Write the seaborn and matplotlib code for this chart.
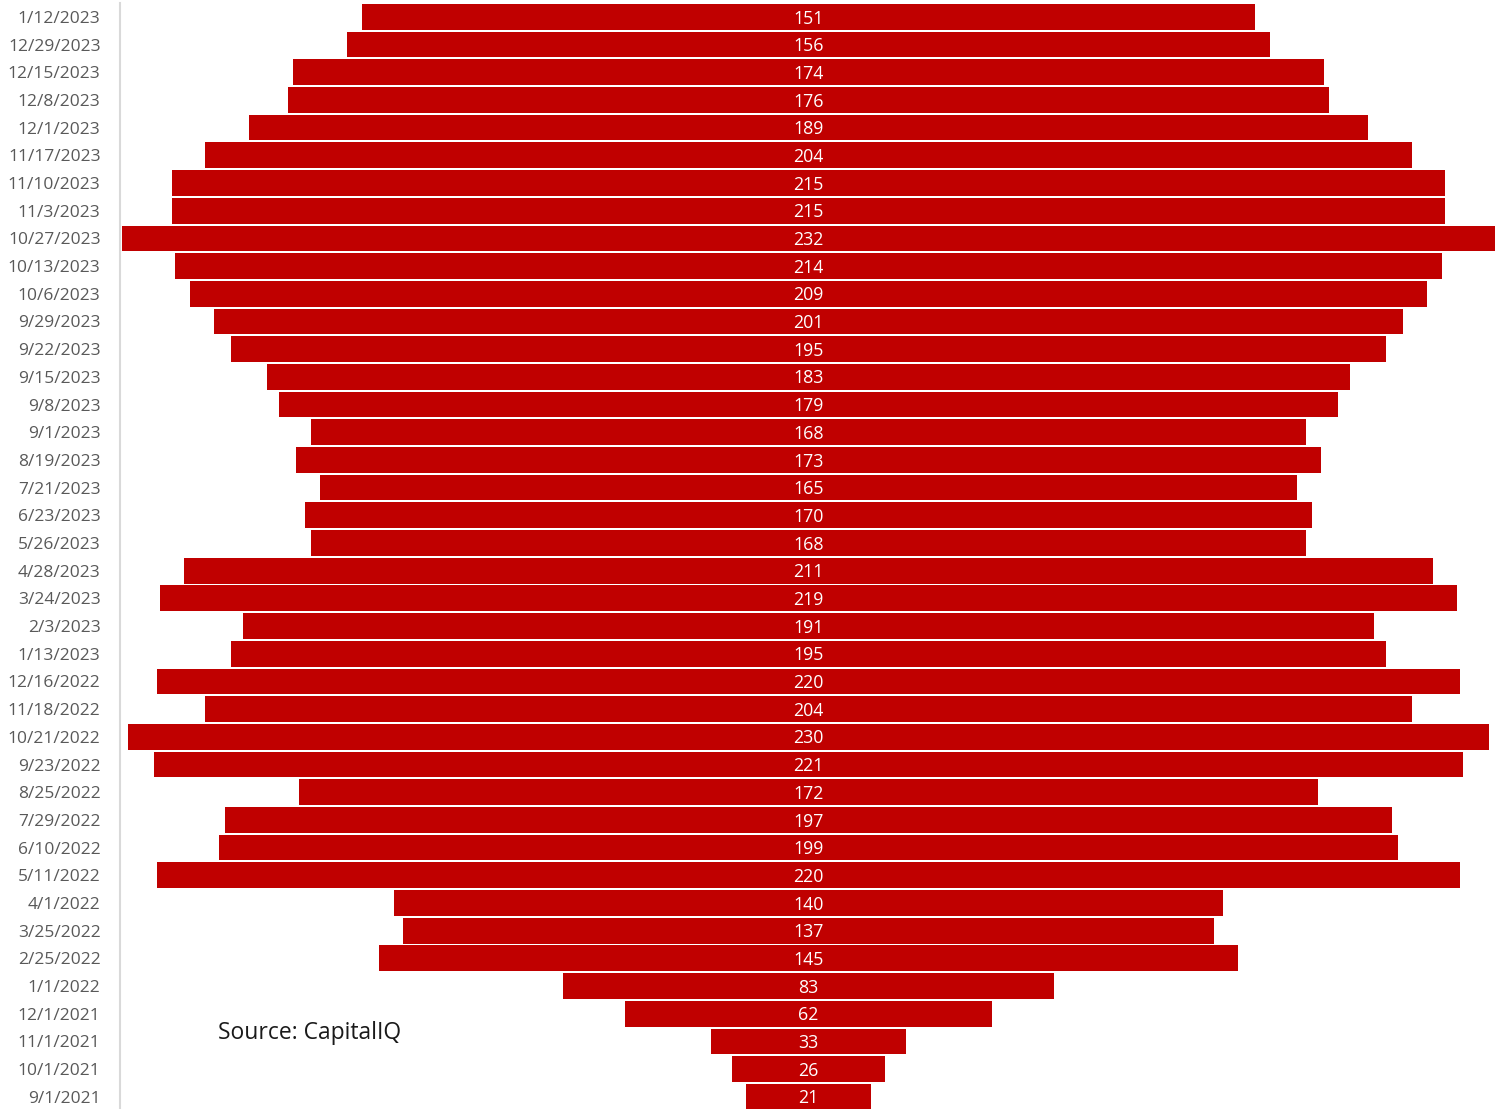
import matplotlib
matplotlib.use("Agg")
import matplotlib.pyplot as plt
import seaborn as sns
import pandas as pd

dates = [
    "1/12/2023", "12/29/2023", "12/15/2023", "12/8/2023", "12/1/2023",
    "11/17/2023", "11/10/2023", "11/3/2023", "10/27/2023", "10/13/2023",
    "10/6/2023", "9/29/2023", "9/22/2023", "9/15/2023", "9/8/2023",
    "9/1/2023", "8/19/2023", "7/21/2023", "6/23/2023", "5/26/2023",
    "4/28/2023", "3/24/2023", "2/3/2023", "1/13/2023", "12/16/2022",
    "11/18/2022", "10/21/2022", "9/23/2022", "8/25/2022", "7/29/2022",
    "6/10/2022", "5/11/2022", "4/1/2022", "3/25/2022", "2/25/2022",
    "1/1/2022", "12/1/2021", "11/1/2021", "10/1/2021", "9/1/2021",
]
counts = [
    151, 156, 174, 176, 189,
    204, 215, 215, 232, 214,
    209, 201, 195, 183, 179,
    168, 173, 165, 170, 168,
    211, 219, 191, 195, 220,
    204, 230, 221, 172, 197,
    199, 220, 140, 137, 145,
    83, 62, 33, 26, 21,
]

BAR = "#C00000"
df = pd.DataFrame({"date": dates, "count": counts})
df["right"] = df["count"] / 2
df["left"] = -df["count"] / 2

sns.set_theme(style="white")
plt.rcParams["font.family"] = ["Open Sans", "DejaVu Sans"]

fig = plt.figure(figsize=(15.04, 11.09), dpi=100)
ax = fig.add_axes([120 / 1504, 0.0, (1497 - 120) / 1504, (1109 - 3) / 1109])

# each bar is drawn as two halves around zero, so bars are centred
for col in ("right", "left"):
    sns.barplot(data=df, x=col, y="date", orient="h", color=BAR,
                saturation=1, width=0.93, linewidth=0, ax=ax, order=dates)

for i, v in enumerate(df["count"]):
    ax.text(0, i + 0.06, str(v), ha="center", va="center", color="white",
            fontsize=12.8)

ax.set_xlim(-116.3, 116.3)
ax.set_ylim(39.44, -0.5)
ax.set_xlabel("")
ax.set_ylabel("")
ax.set_xticks([])
for s in ("top", "right", "bottom"):
    ax.spines[s].set_visible(False)
ax.spines["left"].set_color("#d9d9d9")
ax.spines["left"].set_linewidth(1.5)
ax.tick_params(axis="y", length=0, pad=14, labelsize=12.5, labelcolor="#595959")
for lbl in ax.get_yticklabels():
    lbl.set_y(lbl.get_position()[1])

fig.text(218 / 1504, 1 - 1033 / 1109, "Source: CapitalIQ", ha="left",
         va="center", fontsize=16.5, color="#1a1a1a")

fig.savefig("out.png", dpi=100)
